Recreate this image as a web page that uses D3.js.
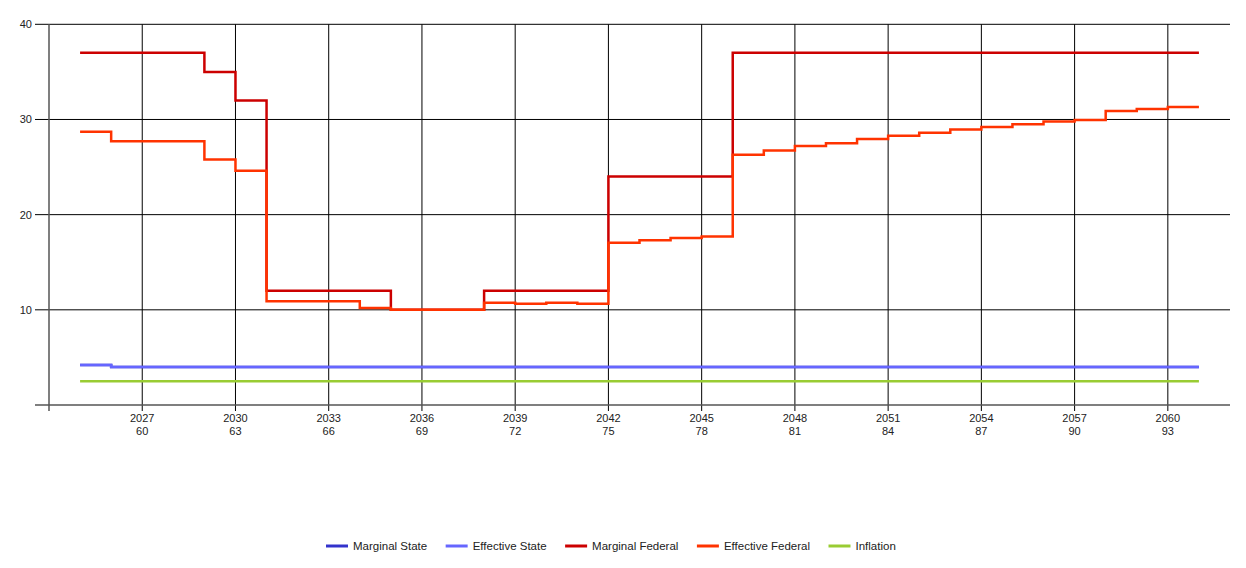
<!DOCTYPE html>
<html>
<head>
<meta charset="utf-8">
<script src="https://cdn.jsdelivr.net/npm/d3@7"></script>
<style>
  html, body { margin: 0; padding: 0; background: #fff; }
  svg { display: block; font-family: "Liberation Sans", Arial, sans-serif; }
</style>
</head>
<body>
<div id="chart"></div>
<script>
// Tax rates by year (step lines, each value holds until next year)
const years = [2025, 2026, 2027, 2028, 2029, 2030, 2031, 2032, 2033, 2034, 2035, 2036, 2037,
  2038, 2039, 2040, 2041, 2042, 2043, 2044, 2045, 2046, 2047, 2048, 2049, 2050, 2051, 2052,
  2053, 2054, 2055, 2056, 2057, 2058, 2059, 2060, 2061];

const marginalState = [4.2, 4.0, 4.0, 4.0, 4.0, 4.0, 4.0, 4.0, 4.0, 4.0, 4.0, 4.0, 4.0,
  4.0, 4.0, 4.0, 4.0, 4.0, 4.0, 4.0, 4.0, 4.0, 4.0, 4.0, 4.0, 4.0, 4.0, 4.0,
  4.0, 4.0, 4.0, 4.0, 4.0, 4.0, 4.0, 4.0, 4.0];

const effectiveState = [4.2, 4.0, 4.0, 4.0, 4.0, 4.0, 4.0, 4.0, 4.0, 4.0, 4.0, 4.0, 4.0,
  4.0, 4.0, 4.0, 4.0, 4.0, 4.0, 4.0, 4.0, 4.0, 4.0, 4.0, 4.0, 4.0, 4.0, 4.0,
  4.0, 4.0, 4.0, 4.0, 4.0, 4.0, 4.0, 4.0, 4.0];

const marginalFederal = [37, 37, 37, 37, 35, 32, 12, 12, 12, 12, 10, 10, 10,
  12, 12, 12, 12, 24, 24, 24, 24, 37, 37, 37, 37, 37, 37, 37,
  37, 37, 37, 37, 37, 37, 37, 37, 37];

const effectiveFederal = [28.7, 27.7, 27.7, 27.7, 25.8, 24.6, 10.9, 10.9, 10.9, 10.2, 10.0, 10.0, 10.0,
  10.75, 10.65, 10.75, 10.65, 17.05, 17.3, 17.55, 17.7, 26.3, 26.75, 27.2, 27.5, 27.95, 28.3, 28.6,
  28.95, 29.2, 29.5, 29.8, 29.95, 30.9, 31.1, 31.3, 31.3];

const inflation = [2.5, 2.5, 2.5, 2.5, 2.5, 2.5, 2.5, 2.5, 2.5, 2.5, 2.5, 2.5, 2.5,
  2.5, 2.5, 2.5, 2.5, 2.5, 2.5, 2.5, 2.5, 2.5, 2.5, 2.5, 2.5, 2.5, 2.5, 2.5,
  2.5, 2.5, 2.5, 2.5, 2.5, 2.5, 2.5, 2.5, 2.5];

const tickYears = [2027, 2030, 2033, 2036, 2039, 2042, 2045, 2048, 2051, 2054, 2057, 2060];
const tickAges = [60, 63, 66, 69, 72, 75, 78, 81, 84, 87, 90, 93];
const yTicks = [10, 20, 30, 40];

const seriesNames = ["Marginal State", "Effective State", "Marginal Federal", "Effective Federal", "Inflation"];
const seriesValues = [marginalState, effectiveState, marginalFederal, effectiveFederal, inflation];
const seriesColors = ["#3333cc", "#6666ff", "#cc0000", "#ff3300", "#99cc33"];

const width = 1246;
const height = 568;

const svg = d3.select("#chart").append("svg")
  .attr("width", width)
  .attr("height", height);

const x = d3.scaleLinear().domain([2024, 2062]).range([49, 1230]);
const y = d3.scaleLinear().domain([0, 40]).range([405, 24.3]);

// Grid
const grid = svg.append("g").attr("stroke", "#000").attr("stroke-width", 1);

grid.selectAll("line.hgrid")
  .data(yTicks)
  .join("line")
  .attr("class", "hgrid")
  .attr("x1", 35)
  .attr("x2", x.range()[1])
  .attr("y1", (d) => y(d))
  .attr("y2", (d) => y(d));

grid.selectAll("line.vgrid")
  .data(tickYears)
  .join("line")
  .attr("class", "vgrid")
  .attr("x1", (d) => x(d))
  .attr("x2", (d) => x(d))
  .attr("y1", y(40))
  .attr("y2", y(0) + 6);

// Axes lines
svg.append("line")
  .attr("x1", 35).attr("x2", x.range()[1])
  .attr("y1", y(0)).attr("y2", y(0))
  .attr("stroke", "#555").attr("stroke-width", 1.5);

svg.append("line")
  .attr("x1", x(2024)).attr("x2", x(2024))
  .attr("y1", y(40)).attr("y2", y(0) + 6)
  .attr("stroke", "#555").attr("stroke-width", 1.5);

// Y labels
svg.selectAll("text.ylab")
  .data(yTicks)
  .join("text")
  .attr("class", "ylab")
  .attr("x", 32)
  .attr("y", (d) => y(d))
  .attr("dy", "0.35em")
  .attr("text-anchor", "end")
  .attr("font-size", 11)
  .attr("fill", "#222")
  .text((d) => d);

// X labels: year and age
const xlab = svg.selectAll("g.xlab")
  .data(tickYears)
  .join("g")
  .attr("class", "xlab")
  .attr("transform", (d) => `translate(${x(d)},0)`);

xlab.append("text")
  .attr("y", 421.5)
  .attr("text-anchor", "middle")
  .attr("font-size", 11)
  .attr("fill", "#222")
  .text((d) => d);

xlab.append("text")
  .attr("y", 435)
  .attr("text-anchor", "middle")
  .attr("font-size", 11)
  .attr("fill", "#222")
  .text((d, i) => tickAges[i]);

// Step lines
const line = d3.line()
  .x((d) => x(d[0]))
  .y((d) => y(d[1]))
  .curve(d3.curveStepAfter);

seriesValues.forEach((vals, i) => {
  svg.append("path")
    .datum(years.map((yr, j) => [yr, vals[j]]))
    .attr("fill", "none")
    .attr("stroke", seriesColors[i])
    .attr("stroke-width", 2.5)
    .attr("d", line);
});

// Legend
const legend = svg.append("g").attr("class", "legend");
let lx = 326;
const ly = 546;
seriesNames.forEach((name, i) => {
  legend.append("line")
    .attr("x1", lx).attr("x2", lx + 22)
    .attr("y1", ly).attr("y2", ly)
    .attr("stroke", seriesColors[i])
    .attr("stroke-width", 3);
  const t = legend.append("text")
    .attr("x", lx + 27)
    .attr("y", ly)
    .attr("dy", "0.35em")
    .attr("font-size", 11.5)
    .attr("fill", "#222")
    .text(name);
  lx += 27 + t.node().getComputedTextLength() + 18.5;
});
</script>
</body>
</html>
